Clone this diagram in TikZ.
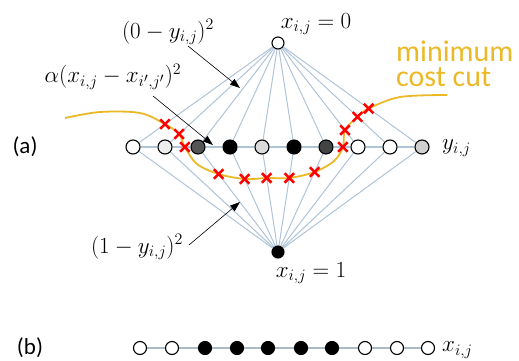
\documentclass[tikz,border=0pt]{standalone}
\usepackage{fontspec}
\setsansfont{Carlito}
\usetikzlibrary{arrows.meta,shapes.misc,calc,backgrounds}
\definecolor{edgeblue}{HTML}{AFC3D9}
\definecolor{rowblue}{HTML}{A9BACB}
\definecolor{cutgold}{HTML}{EBB928}
\definecolor{gA}{HTML}{EEEEEE}
\definecolor{gB}{HTML}{555555}
\definecolor{gC}{HTML}{DADADA}
\definecolor{gD}{HTML}{444444}
\definecolor{gE}{HTML}{D0D0D0}
\tikzset{
  vtx/.style={circle,draw=black,line width=1.1pt,minimum size=14pt,inner sep=0pt,fill=white},
  bvtx/.style={circle,draw=black,line width=1.1pt,minimum size=13pt,inner sep=0pt,fill=white},
  term/.style={circle,draw=black,line width=1.1pt,minimum size=12pt,inner sep=0pt,fill=white},
  link/.style={draw=edgeblue,line width=1pt},
  rowlink/.style={draw=edgeblue,line width=1.5pt},
  brow/.style={draw=rowblue,line width=2pt},
  xmark/.style={cross out,draw=red,line width=2.5pt,minimum size=7pt,inner sep=0pt},
  cutline/.style={draw=cutgold,line width=1.8pt},
  ptr/.style={-{Triangle[length=10pt,width=7pt]},line width=0.6pt,draw=black},
  mlabel/.style={font=\fontsize{20.74}{24}\selectfont,inner sep=0pt,scale=1.11},
  tlabel/.style={font=\sffamily\fontsize{23}{26}\selectfont,inner sep=0pt},
  cutlabel/.style={font=\sffamily\fontsize{30}{24}\selectfont,text=cutgold,anchor=base west,inner sep=0pt},
}
\begin{document}
\begin{tikzpicture}[x=1pt,y=-1pt]
\useasboundingbox (0,0) rectangle (519,361);
% (a) row nodes
\node[vtx] (a1) at (133,147) {};
\node[vtx,fill=gA] (a2) at (165,147) {};
\node[vtx,fill=gB] (a3) at (198,147) {};
\node[vtx,fill=black] (a4) at (230,147) {};
\node[vtx,fill=gC] (a5) at (262,147) {};
\node[vtx,fill=black] (a6) at (294,147) {};
\node[vtx,fill=gD] (a7) at (326,147) {};
\node[vtx] (a8) at (358,147) {};
\node[vtx] (a9) at (390,147) {};
\node[vtx,fill=gE] (a10) at (422,147) {};
\node[term] (top) at (278,43) {};
\node[term,fill=black] (bot) at (278,252) {};
% cut points
\coordinate (c1) at ($(top.center)!0.78!(a1.center)$);
\coordinate (c2) at ($(top.center)!0.875!(a2.center)$);
\coordinate (c3) at ($(a2.center)!0.6!(a3.center)$);
\coordinate (c4) at ($(bot.center)!0.743!(a3.center)$);
\coordinate (c5) at ($(bot.center)!0.695!(a4.center)$);
\coordinate (c6) at ($(bot.center)!0.705!(a5.center)$);
\coordinate (c7) at ($(bot.center)!0.705!(a6.center)$);
\coordinate (c8) at ($(bot.center)!0.762!(a7.center)$);
\coordinate (c9) at ($(a7.center)!0.53!(a8.center)$);
\coordinate (c10) at ($(top.center)!0.837!(a8.center)$);
\coordinate (c11) at ($(top.center)!0.71!(a9.center)$);
\coordinate (c12) at ($(top.center)!0.63!(a10.center)$);
\coordinate (cs) at (65,118);
\coordinate (cp1) at (100,112);
\coordinate (cp2) at (140,113);
\coordinate (cp3) at (197,164);
\coordinate (cp4) at (334,161);
\coordinate (cp5) at (400,97);
\coordinate (ce) at (447,95);
\begin{scope}[on background layer]
  \foreach \i in {1,...,10} {
    \draw[link] (top) -- (a\i);
    \draw[link] (bot) -- (a\i);
  }
  \foreach \i/\j in {1/2,2/3,3/4,4/5,5/6,6/7,7/8,8/9,9/10}
    \draw[rowlink] (a\i) -- (a\j);
  \draw[cutline] plot[smooth,tension=0.55] coordinates {(cs) (cp1) (cp2) (c1) (c2) (c3) (cp3) (c4) (c5) (c6) (c7) (c8) (cp4) (c9) (c10) (c11) (c12) (cp5) (ce)};
\end{scope}
\foreach \i in {1,...,12} \node[xmark] at (c\i) {};
% labels
\node[tlabel] (la) at (25,147) {(a)};
\node[mlabel] (lx0) at (316,24) {$x_{i,j}=0$};
\node[mlabel] (lx1) at (311,273) {$x_{i,j}=1$};
\node[mlabel,anchor=west] (ly) at (442,148) {$y_{i,j}$};
\node[mlabel] (l0) at (168,32) {$(0-y_{i,j})^2$};
\node[mlabel] (lal) at (113,77) {$\alpha(x_{i,j}-x_{i',j'})^2$};
\node[mlabel] (l1) at (137,247) {$(1-y_{i,j})^2$};
\node[cutlabel] (lcut1) at (396,61) {minimum};
\node[cutlabel] (lcut2) at (396,86) {cost cut};
% pointer arrows
\coordinate (p1s) at (188,46);
\coordinate (p1e) at (240,88);
\coordinate (p2s) at (153,96);
\coordinate (p2e) at (213,145);
\coordinate (p3s) at (189,245);
\coordinate (p3e) at (240,202);
\draw[ptr] (p1s) -- (p1e);
\draw[ptr] (p2s) -- (p2e);
\draw[ptr] (p3s) -- (p3e);
% (b) row
\node[tlabel] (lb) at (30,348) {(b)};
\node[bvtx] (b1) at (140,348) {};
\node[bvtx] (b2) at (172,348) {};
\node[bvtx,fill=black] (b3) at (205,348) {};
\node[bvtx,fill=black] (b4) at (237,348) {};
\node[bvtx,fill=black] (b5) at (268,348) {};
\node[bvtx,fill=black] (b6) at (301,348) {};
\node[bvtx,fill=black] (b7) at (332,348) {};
\node[bvtx] (b8) at (365,348) {};
\node[bvtx] (b9) at (397,348) {};
\node[bvtx] (b10) at (428,348) {};
\node[mlabel,anchor=west] (lxb) at (442,350) {$x_{i,j}$};
\begin{scope}[on background layer]
  \foreach \i/\j in {1/2,2/3,3/4,4/5,5/6,6/7,7/8,8/9,9/10}
    \draw[brow] (b\i) -- (b\j);
\end{scope}
\end{tikzpicture}
\end{document}
